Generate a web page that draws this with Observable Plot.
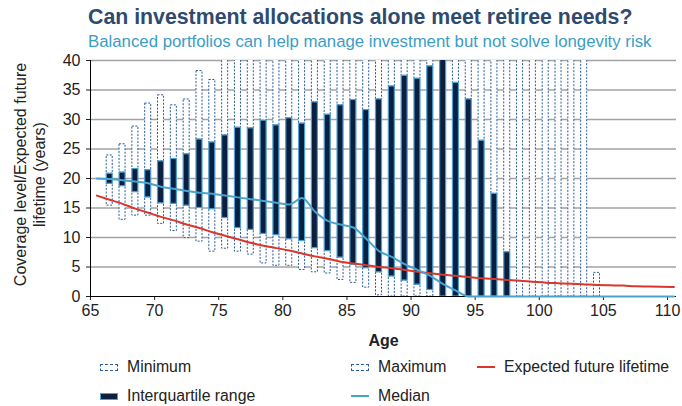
<!DOCTYPE html>
<html><head><meta charset="utf-8">
<script src="https://cdn.jsdelivr.net/npm/d3@7"></script>
<script src="https://cdn.jsdelivr.net/npm/@observablehq/plot@0.6"></script>
<style>
body{margin:0;width:682px;height:406px;position:relative;overflow:hidden;background:#fff;font-family:"Liberation Sans",Arial,sans-serif;}
#title{position:absolute;left:88px;top:5px;font-size:21.3px;font-weight:bold;color:#2e4a6e;white-space:nowrap;}
#subtitle{position:absolute;left:88px;top:32px;font-size:16.8px;color:#3b9dc6;white-space:nowrap;}
#chart{position:absolute;left:0;top:52px;}
.leg{position:absolute;font-size:15.8px;color:#222;display:flex;align-items:center;white-space:nowrap;height:18px;}
.sw{display:inline-block;width:18px;margin-right:9px;box-sizing:border-box;}
</style></head>
<body>
<div id="title"></div><div id="subtitle"></div><div id="chart"></div><div id="legend"></div>
<script>
const titleText = "Can investment allocations alone meet retiree needs?";
const subtitleText = "Balanced portfolios can help manage investment but not solve longevity risk";
const yTitle = "Coverage level/Expected future\nlifetime (years)";
const xTitle = "Age";

// Bars: one per age (category), 66..104
const barAges = [66,67,68,69,70,71,72,73,74,75,76,77,78,79,80,81,82,83,84,85,86,87,88,89,90,91,92,93,94,95,96,97,98,99,100,101,102,103,104];
const minVals = [15.4,13.0,13.7,13.7,12.3,11.1,9.9,9.3,7.6,8.1,7.6,7.1,5.6,5.2,5.2,4.5,4.1,3.9,2.8,2.3,1.5,0.2,0,0,0,0,0,0,0,0,0,0,0,0,0,0,0,0,0];
const q1Vals  = [19.1,18.7,17.7,16.8,15.8,15.7,15.4,15.0,14.8,13.3,11.6,11.3,10.6,10.4,9.7,9.4,8.2,7.7,6.6,5.4,4.8,4.1,3.4,2.7,2.0,1.1,0,0,0,0,0,0,0,0,0,0,0,0,0];
const q3Vals  = [20.8,21.0,21.6,21.4,22.9,23.3,24.1,26.6,26.1,27.3,28.6,28.5,29.8,29.0,30.2,29.3,32.9,30.8,32.4,33.3,31.6,33.4,35.6,37.4,36.9,39.0,41,36.2,33.4,26.4,17.4,7.5,0,0,0,0,0,0,0];
const maxVals = [23.9,25.8,28.8,32.7,34.1,32.4,33.4,38.2,36.7,42,42,42,42,42,42,42,42,42,42,42,42,42,42,42,42,42,42,42,42,42,42,42,42,42,42,42,42,42,4.0];

// Lines: one point per age 65..110
const lineAges = [65,66,67,68,69,70,71,72,73,74,75,76,77,78,79,80,81,82,83,84,85,86,87,88,89,90,91,92,93,94,95,96,97,98,99,100,101,102,103,104,105,106,107,108,109,110];
const expectedLifetime = [17.1,16.4,15.7,14.9,14.2,13.5,12.9,12.2,11.6,10.9,10.3,9.7,9.1,8.6,8.2,7.8,7.3,6.8,6.4,5.9,5.6,5.3,5.0,4.8,4.5,4.2,3.95,3.7,3.5,3.3,3.1,2.95,2.8,2.65,2.5,2.35,2.25,2.15,2.05,1.95,1.9,1.85,1.75,1.7,1.65,1.6];
const medianVals = [20.0,19.9,19.7,19.5,19.2,18.6,18.25,17.9,17.6,17.4,17.1,16.8,16.5,16.2,15.9,15.6,16.7,14.4,12.8,12.2,11.7,9.8,7.7,6.7,5.5,4.5,3.5,2.1,1.0,0,0,0,0,0,0,0,0,0,0,0,0,0,0,0,0,0];

const xTicks = [65,70,75,80,85,90,95,100,105,110];
const yTicks = [0,5,10,15,20,25,30,35,40];

const legendItems = [
  {label: "Minimum", kind: "box"},
  {label: "Maximum", kind: "box"},
  {label: "Expected future lifetime", kind: "line", color: "#d7382b"},
  {label: "Interquartile range", kind: "bar"},
  {label: "Median", kind: "line", color: "#4aa3cc"}
];

const bars = barAges.map((a, i) => ({age: a, min: minVals[i], q1: q1Vals[i], q3: q3Vals[i], max: maxVals[i]}));
const lines = lineAges.map((a, i) => ({age: a, life: expectedLifetime[i], median: medianVals[i]}));

document.getElementById("title").textContent = titleText;
document.getElementById("subtitle").textContent = subtitleText;

const font = '"Liberation Sans", Arial, sans-serif';
const boxStyle = {insetLeft: 3.4, insetRight: 3.4, fill: "white", stroke: "#2a5a9a", strokeWidth: 1, strokeDasharray: "2,1.5"};

const chart = Plot.plot({
  width: 682, height: 302,
  marginLeft: 90, marginRight: 6, marginTop: 8, marginBottom: 58,
  style: {fontFamily: font, fontSize: "16px", color: "#222", background: "white"},
  x: {domain: [65, 110.7], ticks: xTicks, tickFormat: d => String(d), tickSize: 4, tickPadding: 4, label: null},
  y: {domain: [0, 40], ticks: yTicks, tickFormat: d => String(d), tickSize: 4, tickPadding: 6, label: null},
  marks: [
    Plot.ruleY(yTicks.filter(d => d > 0), {stroke: "#a3a3a3", strokeWidth: 1.5}),
    Plot.rect(bars.filter(d => d.q1 > d.min), {x1: d => d.age, x2: d => d.age + 1, y1: "min", y2: "q1", ...boxStyle}),
    Plot.rect(bars.filter(d => d.max > d.q3), {x1: d => d.age, x2: d => d.age + 1, y1: "q3", y2: "max", clip: true, ...boxStyle}),
    Plot.rect(bars.filter(d => d.q3 > d.q1), {x1: d => d.age, x2: d => d.age + 1, y1: "q1", y2: "q3", clip: true, insetLeft: 3.4, insetRight: 3.4, fill: "#0b2040", stroke: "#4aa0d2", strokeWidth: 1.2}),
    Plot.ruleX([65], {stroke: "#000", strokeWidth: 1}),
    Plot.ruleY([0], {stroke: "#000", strokeWidth: 1}),
    Plot.line(lines, {x: d => d.age + 0.5, y: "life", stroke: "#d7382b", strokeWidth: 2, curve: "monotone-x"}),
    Plot.line(lines, {x: d => d.age + 0.5, y: "median", stroke: "#4aa3cc", strokeWidth: 2, curve: "monotone-x"}),
    Plot.text([yTitle], {frameAnchor: "left", dx: -61, dy: -4, rotate: -90, textAnchor: "middle", text: d => d, fontSize: 16, lineHeight: 1.15, fill: "#222"}),
    Plot.text([xTitle], {frameAnchor: "bottom", dy: 49, text: d => d, fontSize: 16, fontWeight: "bold", fill: "#222"})
  ]
});
document.getElementById("chart").appendChild(chart);

// Legend (HTML, below the SVG)
const legend = document.getElementById("legend");
const cols = [100, 351, 477];
const rows = [358, 387];
const slots = [[0,0],[0,1],[0,2],[1,0],[1,1]];
legendItems.forEach((it, i) => {
  const [r, c] = slots[i];
  const div = document.createElement("div");
  div.className = "leg";
  div.style.left = cols[c] + "px";
  div.style.top = rows[r] + "px";
  const sw = document.createElement("span");
  sw.className = "sw";
  if (it.kind === "box") { sw.style.height = "7px"; sw.style.border = "1px dashed #2a5a9a"; sw.style.background = "white"; }
  else if (it.kind === "bar") { sw.style.height = "7px"; sw.style.border = "1.2px solid #4aa0d2"; sw.style.background = "#0b2040"; }
  else { sw.style.height = "2px"; sw.style.background = it.color; }
  div.appendChild(sw);
  const t = document.createElement("span");
  t.textContent = it.label;
  div.appendChild(t);
  legend.appendChild(div);
});
</script>
</body></html>
